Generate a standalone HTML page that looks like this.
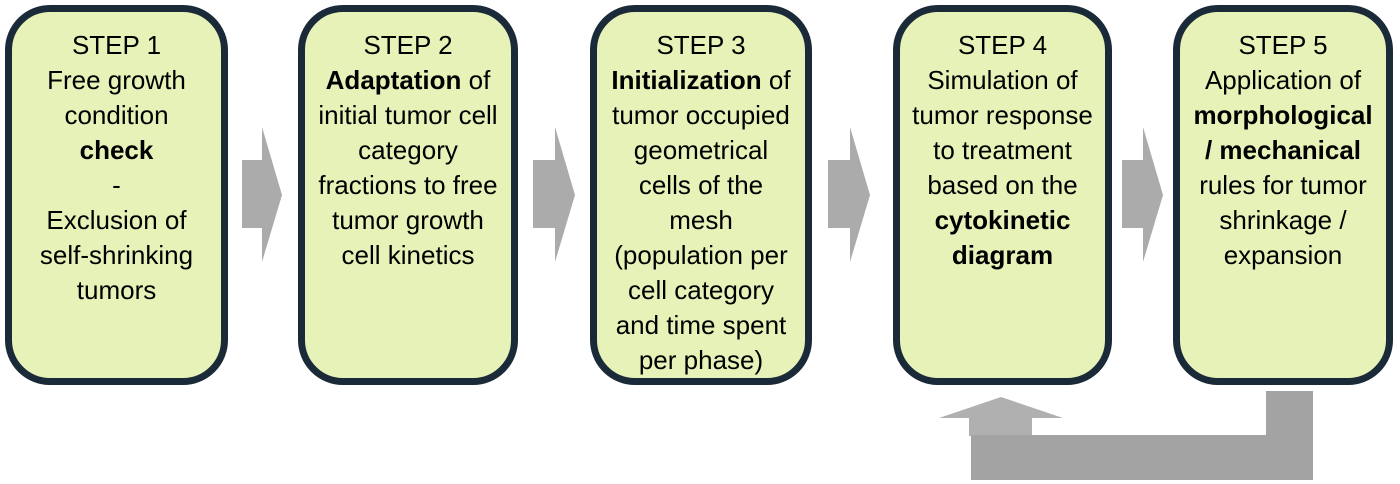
<!DOCTYPE html>
<html><head><style>
body{margin:0;width:1400px;height:484px;background:#fff;position:relative;overflow:hidden;font-family:"Liberation Sans",sans-serif}
.b{position:absolute;top:5px;height:350px;background:#e6f2b8;border:7px solid #1b2a38;border-radius:45px;text-align:center;font-size:26px;line-height:35px;color:#000;padding-top:16px;box-sizing:content-box;white-space:nowrap}
b{font-weight:bold}
</style></head><body>
<div class="b" style="left:5px;width:209px">STEP 1<br>Free growth<br>condition<br><b>check</b><br>-<br>Exclusion of<br>self-shrinking<br>tumors</div>
<div class="b" style="left:298px;width:206px">STEP 2<br><b>Adaptation</b> of<br>initial tumor cell<br>category<br>fractions to free<br>tumor growth<br>cell kinetics</div>
<div class="b" style="left:590px;width:208px">STEP 3<br><b>Initialization</b> of<br>tumor occupied<br>geometrical<br>cells of the<br>mesh<br>(population per<br>cell category<br>and time spent<br>per phase)</div>
<div class="b" style="left:893px;width:205px">STEP 4<br>Simulation of<br>tumor response<br>to treatment<br>based on the<br><b>cytokinetic<br>diagram</b></div>
<div class="b" style="left:1173px;width:206px">STEP 5<br>Application of<br><b>morphological<br>/ mechanical</b><br>rules for tumor<br>shrinkage /<br>expansion</div>
<svg width="1400" height="484" style="position:absolute;left:0;top:0">
<g fill="#ababab">
<polygon points="242,160 262,160 262,127 282,195 262,262 262,228 242,228"/>
<polygon points="533,160 555,160 555,127 575,195 555,262 555,228 533,228"/>
<polygon points="828,160 850,160 850,127 870,195 850,262 850,228 828,228"/>
<polygon points="1122,160 1143,160 1143,127 1163,195 1143,262 1143,228 1122,228"/>
<polygon points="939,418 1001,397 1063,418 1032,418 1032,436 969,436 969,418" fill="#b0b0b0"/>
<polygon points="971,435 1266,435 1266,391 1313,391 1313,480 971,480" fill="#a3a3a3"/>
</g>
</svg>
</body></html>
